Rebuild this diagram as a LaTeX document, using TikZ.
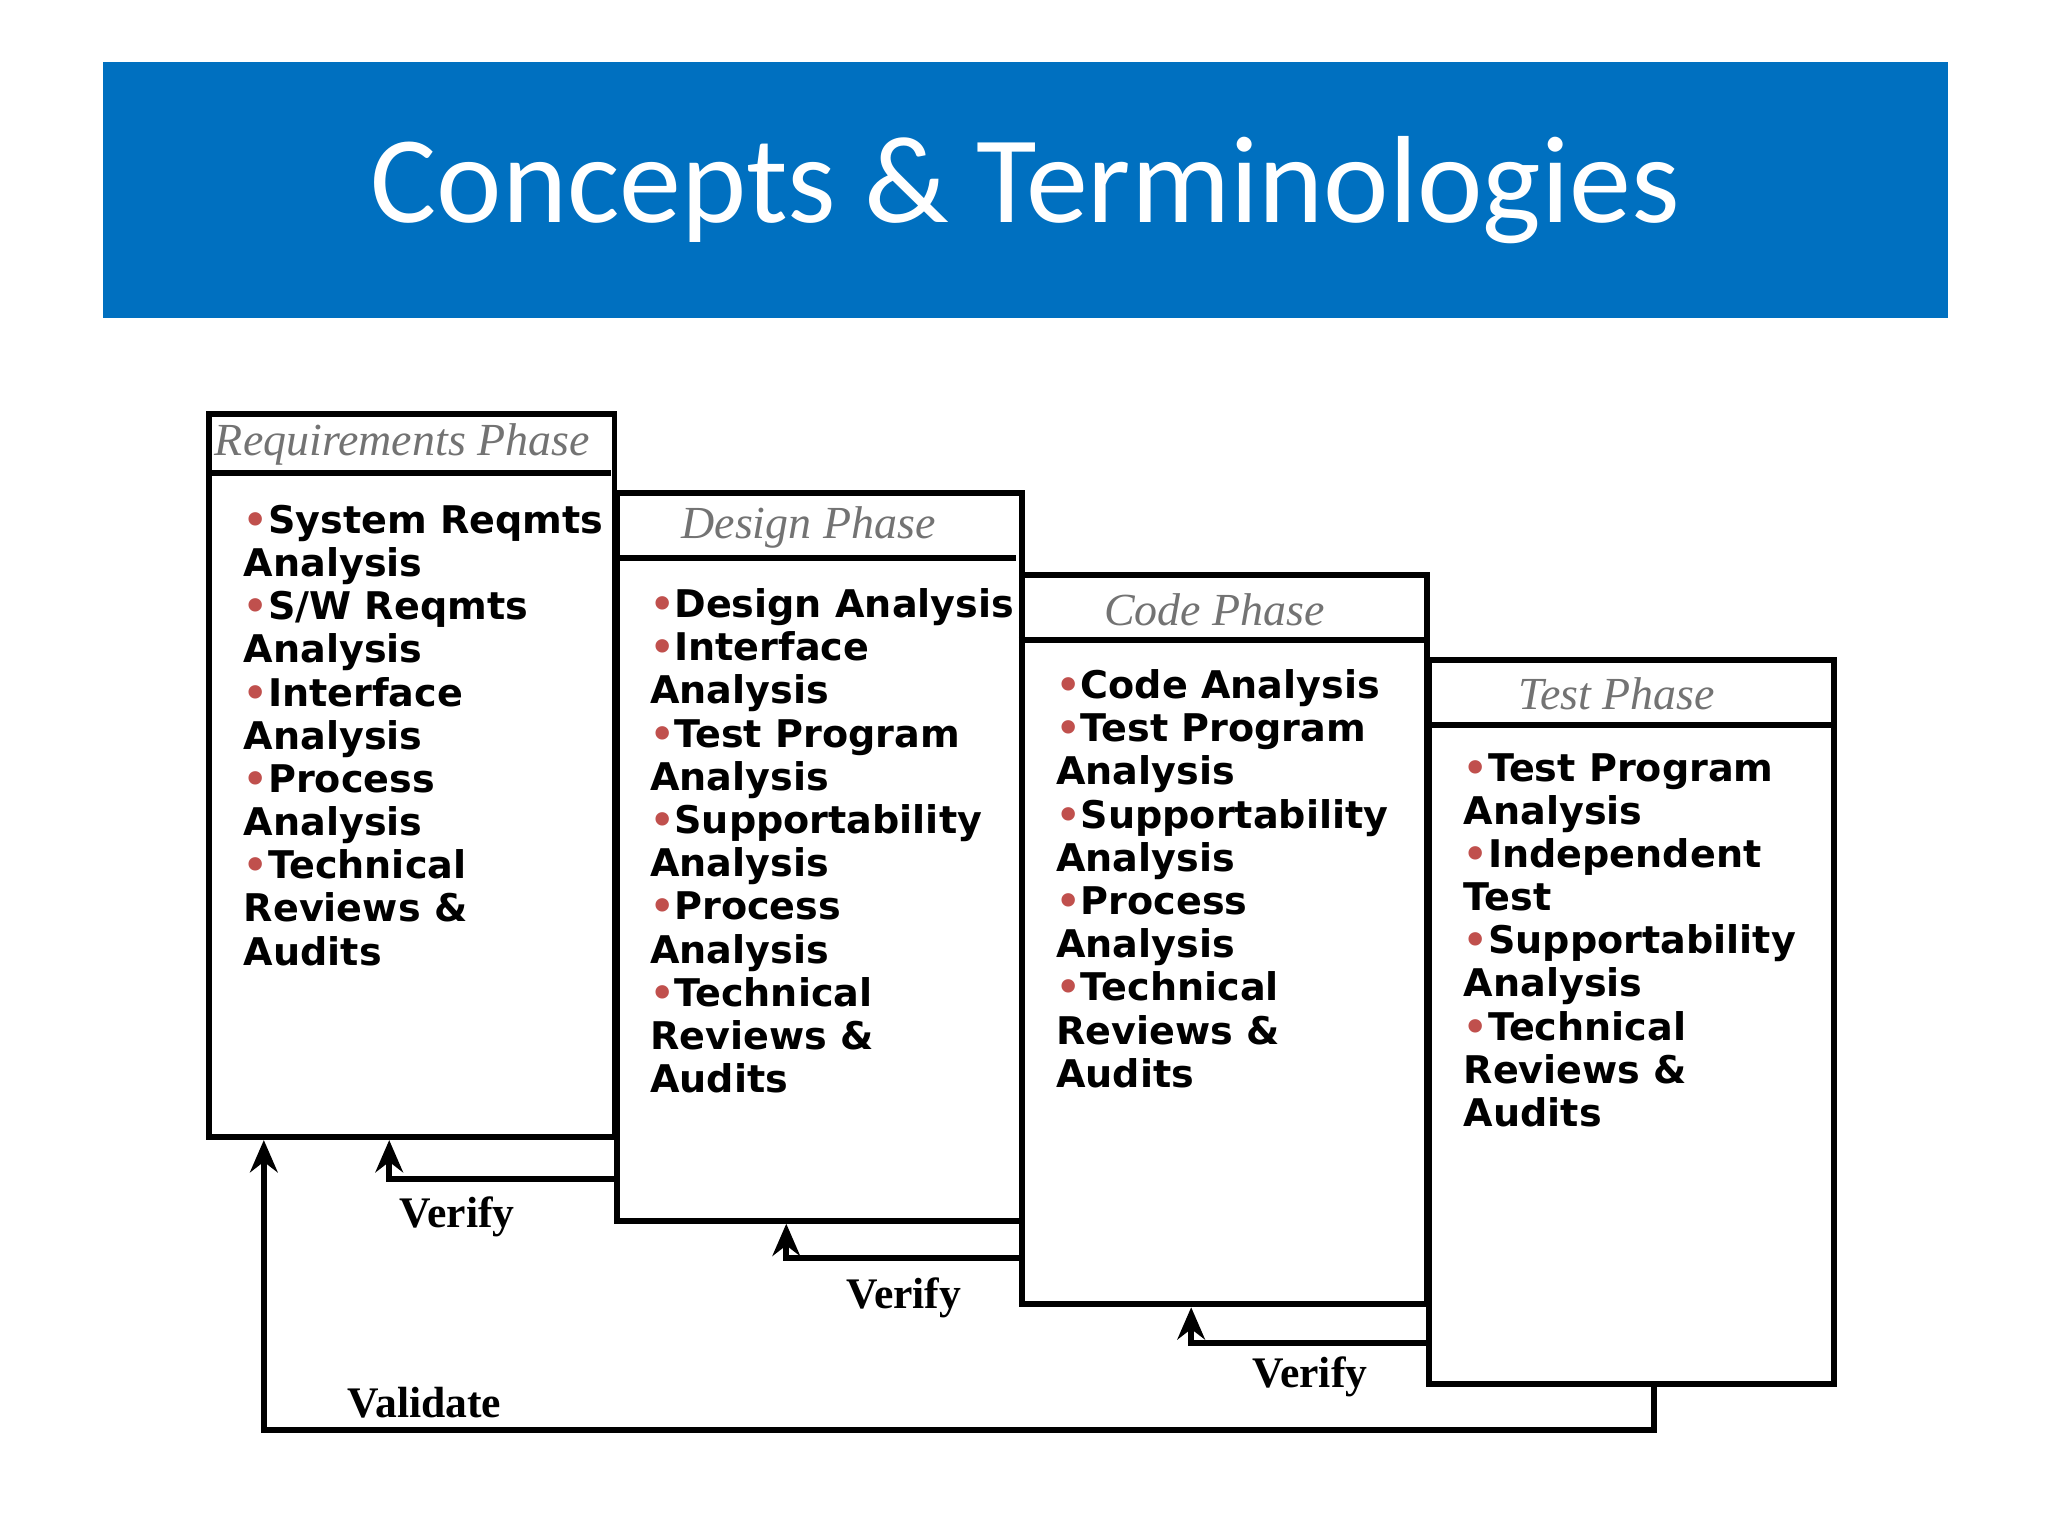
\documentclass[tikz,border=0pt]{standalone}
\usepackage{fontspec}
\setmainfont{Liberation Serif}
\newfontfamily\titlefont{Carlito}
\newfontfamily\bodyfont{DejaVu Sans}
\usetikzlibrary{arrows.meta}
\definecolor{barblue}{HTML}{0070C0}
\definecolor{bul}{HTML}{C0504D}
\newcommand{\bt}{{\color{bul}\textbullet}}
\begin{document}
\begin{tikzpicture}[x=0.01cm,y=-0.01cm,
  phase/.style={draw,line width=1.3pt,anchor=north west,minimum width=3.1cm,inner sep=0pt},
  head/.style={font=\itshape\fontsize{10}{12}\selectfont,text=black!55},
  body/.style={anchor=north west,align=left,inner sep=0pt,font=\bodyfont\bfseries\fontsize{8.3}{9.4}\selectfont},
  lbl/.style={font=\bfseries\fontsize{9.5}{11}\selectfont},
  conn/.style={line width=1.3pt,-{Stealth[length=7pt,width=6pt]}}]
\useasboundingbox (0,0) rectangle (1568,1176);
\fill[white] (0,0) rectangle (1568,1176);
\node[fill=barblue,anchor=north west,minimum width=14.12cm,minimum height=1.96cm,inner sep=0pt] (bar) at (78,47) {};
\node[text=white,font=\titlefont\fontsize{27}{30}\selectfont] (title) at (bar.center) {Concepts \& Terminologies};
% boxes
\node[phase,minimum height=5.53cm] (req) at (158,315) {};
\node[phase,minimum height=5.57cm] (des) at (470,375) {};
\node[phase,minimum height=5.58cm] (cod) at (780,438) {};
\node[phase,minimum height=5.54cm] (tst) at (1092,503) {};
\draw[line width=1.3pt] (158,362) -- (468,362);
\draw[line width=1.3pt] (470,427) -- (778,427);
\draw[line width=1.3pt] (780,490) -- (1090,490);
\draw[line width=1.3pt] (1092,555) -- (1402,555);
\node[head] (hreq) at (308,340) {Requirements Phase};
\node[head] (hdes) at (619,404) {Design Phase};
\node[head] (hcod) at (930,467) {Code Phase};
\node[head] (htst) at (1238,531) {Test Phase};
\node[body] (treq) at (186,386) {\bt System Reqmts\\Analysis\\\bt S/W Reqmts\\Analysis\\\bt Interface\\Analysis\\\bt Process\\Analysis\\\bt Technical\\Reviews \&\\Audits};
\node[body] (tdes) at (497,450) {\bt Design Analysis\\\bt Interface\\Analysis\\\bt Test Program\\Analysis\\\bt Supportability\\Analysis\\\bt Process\\Analysis\\\bt Technical\\Reviews \&\\Audits};
\node[body] (tcod) at (808,512) {\bt Code Analysis\\\bt Test Program\\Analysis\\\bt Supportability\\Analysis\\\bt Process\\Analysis\\\bt Technical\\Reviews \&\\Audits};
\node[body] (ttst) at (1120,576) {\bt Test Program\\Analysis\\\bt Independent\\Test\\\bt Supportability\\Analysis\\\bt Technical\\Reviews \&\\Audits};
% connectors
\coordinate (v1) at (298,903); \coordinate (v2) at (602,963); \coordinate (v3) at (912,1028);
\draw[conn] (des.west |- v1) -- (v1) -- (v1 |- req.south);
\draw[conn] (cod.west |- v2) -- (v2) -- (v2 |- des.south);
\draw[conn] (tst.west |- v3) -- (v3) -- (v3 |- cod.south);
\coordinate (va) at (1266,1095); \coordinate (vb) at (202,1095);
\draw[conn] (va |- tst.south) -- (va) -- (vb) -- (vb |- req.south);
\node[lbl] (l1) at (350,932) {Verify};
\node[lbl] (l2) at (692,994) {Verify};
\node[lbl] (l3) at (1003,1054) {Verify};
\node[lbl] (l4) at (325,1074) {Validate};
\end{tikzpicture}
\end{document}
